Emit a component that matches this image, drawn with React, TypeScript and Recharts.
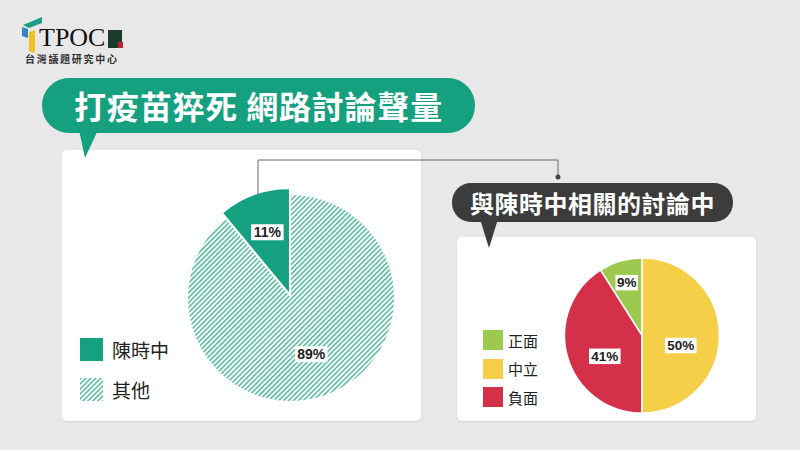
import { PieChart, Pie, Cell } from 'recharts';

const headline = '打疫苗猝死 網路討論聲量';
const subHeadline = '與陳時中相關的討論中';
const brandName = 'TPOC';
const brandSub = '台灣議題研究中心';

// left pie: share of voice
const shareNames = ['陳時中', '其他'];
const shareValues = [11, 89];

// right pie: tone of discussion (draw order, counter-clockwise from 12 o'clock)
const toneNames = ['正面', '負面', '中立'];
const toneValues = [9, 41, 50];
const toneLegendOrder = ['正面', '中立', '負面'];

const GREEN = '#15a07f';
const HATCH = 'url(#hatch)';
const toneColors: Record<string, string> = {
  正面: '#9dc94f',
  中立: '#f5cf47',
  負面: '#d5304a',
};

const CJK = '"Noto Sans CJK TC", "Noto Sans", sans-serif';
const NUM = '"Liberation Sans", Arial, sans-serif';
const RAD = Math.PI / 180;

const shareData = shareNames.map((name, i) => ({ name, value: shareValues[i] }));
const toneData = toneNames.map((name, i) => ({ name, value: toneValues[i] }));

/* eslint-disable @typescript-eslint/no-explicit-any */
interface LabelOpts {
  fontSize: number;
  small: number;
  large: number;
  dy?: number;
  only?: string;
}

function boxLabel({ fontSize, small, large, dy = 0, only }: LabelOpts) {
  return (p: any) => {
    if (only && p.name !== only) return null;
    const isSmall = p.percent < 0.15;
    const r = p.outerRadius * (isSmall ? small : large);
    const x = p.cx + r * Math.cos(-p.midAngle * RAD);
    const y = p.cy + r * Math.sin(-p.midAngle * RAD) + (isSmall ? 0 : dy);
    const txt = `${p.value}%`;
    const w = txt.length * fontSize * 0.68 + 4;
    const h = fontSize + 2;
    return (
      <g>
        <rect x={x - w / 2} y={y - h / 2} width={w} height={h} fill="#fff" />
        <text
          x={x}
          y={y + 1}
          textAnchor="middle"
          dominantBaseline="middle"
          fontFamily={NUM}
          fontWeight="bold"
          fontSize={fontSize}
          fill="#222"
        >
          {txt}
        </text>
      </g>
    );
  };
}

function Hatch({ size }: { size: number }) {
  return (
    <svg width={size} height={size} style={{ display: 'block' }}>
      <rect width={size} height={size} fill={HATCH} />
    </svg>
  );
}

export default function App() {
  // explode the first slice along its bisector
  const mid = (90 + (shareValues[0] / 100) * 180) * RAD;
  const pop = 6;
  const baseCx = 291;
  const baseCy = 298;

  return (
    <div
      style={{
        position: 'absolute',
        left: 0,
        top: 0,
        width: 800,
        height: 450,
        background: '#e8e8e8',
        overflow: 'hidden',
        fontFamily: CJK,
      }}
    >
      <svg width={0} height={0} style={{ position: 'absolute' }}>
        <defs>
          <pattern id="hatch" width={3.5} height={3.5} patternUnits="userSpaceOnUse" patternTransform="rotate(45)">
            <rect width={3.5} height={3.5} fill="#ffffff" />
            <rect width={1.6} height={3.5} fill="#58bca0" />
          </pattern>
        </defs>
      </svg>

      {/* logo */}
      <svg width={30} height={40} style={{ position: 'absolute', left: 20, top: 15 }}>
        <polygon points="3,10 22,2 22,8 9,13" fill="#1f9c86" />
        <polygon points="2,12 8,14 8,23 2,21" fill="#2f86c6" />
        <polygon points="9,17 15,15 15,38 9,36" fill="#f0c31c" />
      </svg>
      <div
        style={{
          position: 'absolute',
          left: 39,
          top: 23,
          fontFamily: '"Liberation Serif", serif',
          fontSize: 26,
          color: '#111',
          lineHeight: '30px',
        }}
      >
        {brandName}
      </div>
      <div style={{ position: 'absolute', left: 108, top: 30, width: 14, height: 18, background: '#1d3b2c' }} />
      <div style={{ position: 'absolute', left: 118, top: 42, width: 5, height: 6, background: '#b8232f' }} />
      <div
        style={{
          position: 'absolute',
          left: 25,
          top: 52,
          fontSize: 10,
          letterSpacing: 1.7,
          color: '#333',
          fontWeight: 'bold',
          lineHeight: '14px',
        }}
      >
        {brandSub}
      </div>

      {/* panels */}
      <div
        style={{
          position: 'absolute',
          left: 62,
          top: 150,
          width: 359,
          height: 271,
          background: '#fff',
          borderRadius: 5,
          boxShadow: '0 1px 2px rgba(0,0,0,0.08)',
        }}
      />
      <div
        style={{
          position: 'absolute',
          left: 457,
          top: 237,
          width: 299,
          height: 184,
          background: '#fff',
          borderRadius: 5,
          boxShadow: '0 1px 2px rgba(0,0,0,0.08)',
        }}
      />

      {/* bubbles and connector */}
      <svg width={800} height={450} style={{ position: 'absolute', left: 0, top: 0 }}>
        <rect x={42} y={78} width={433} height={55} rx={27} fill={GREEN} />
        <polygon points="79,130 98,130 85,158" fill={GREEN} />
        <rect x={452} y={183} width={281} height={39} rx={19} fill="#3c3c3c" />
        <polygon points="480,219 498,219 489,248" fill="#3c3c3c" />
        <polyline points="258,195 258,160 558,160 558,177" fill="none" stroke="#666" strokeWidth={1} />
        <circle cx={558} cy={177} r={2.5} fill="#444" />
      </svg>
      <div
        style={{
          position: 'absolute',
          left: 42,
          top: 78,
          width: 433,
          height: 55,
          lineHeight: '55px',
          textAlign: 'center',
          color: '#fff',
          fontWeight: 'bold',
          fontSize: 32,
          letterSpacing: 0.8,
        }}
      >
        {headline}
      </div>
      <div
        style={{
          position: 'absolute',
          left: 452,
          top: 183,
          width: 281,
          height: 39,
          lineHeight: '39px',
          textAlign: 'center',
          color: '#fff',
          fontWeight: 'bold',
          fontSize: 24,
          letterSpacing: 0.5,
        }}
      >
        {subHeadline}
      </div>

      {/* left legend */}
      {shareNames.map((n, i) => (
        <div
          key={n}
          style={{
            position: 'absolute',
            left: 80,
            top: 338 + i * 40,
            display: 'flex',
            alignItems: 'center',
            gap: 9,
            fontSize: 19,
            color: '#222',
            height: 23,
          }}
        >
          {i === 0 ? <div style={{ width: 23, height: 23, background: GREEN }} /> : <Hatch size={23} />}
          <span>{n}</span>
        </div>
      ))}

      {/* right legend */}
      {toneLegendOrder.map((n, i) => (
        <div
          key={n}
          style={{
            position: 'absolute',
            left: 483,
            top: 330 + i * 28.5,
            display: 'flex',
            alignItems: 'center',
            gap: 5,
            fontSize: 15,
            color: '#222',
            height: 20,
          }}
        >
          <div style={{ width: 20, height: 20, background: toneColors[n] }} />
          <span>{n}</span>
        </div>
      ))}

      <div style={{ position: 'absolute', left: 0, top: 0 }}>
        <PieChart width={800} height={450} margin={{ top: 0, right: 0, bottom: 0, left: 0 }}>
          <Pie
            data={shareData}
            dataKey="value"
            nameKey="name"
            cx={baseCx}
            cy={baseCy}
            outerRadius={103}
            startAngle={90}
            endAngle={450}
            stroke="none"
            labelLine={false}
            label={boxLabel({ fontSize: 14, small: 0.62, large: 0.58, only: shareNames[1] })}
            isAnimationActive={false}
          >
            {shareData.map((d, i) => (
              <Cell key={d.name} fill={i === 0 ? 'none' : HATCH} />
            ))}
          </Pie>
          <Pie
            data={shareData}
            dataKey="value"
            nameKey="name"
            cx={baseCx + pop * Math.cos(mid)}
            cy={baseCy - pop * Math.sin(mid)}
            outerRadius={103}
            startAngle={90}
            endAngle={450}
            stroke="none"
            labelLine={false}
            label={boxLabel({ fontSize: 14, small: 0.62, large: 0.58, only: shareNames[0] })}
            isAnimationActive={false}
          >
            {shareData.map((d, i) => (
              <Cell key={d.name} fill={i === 0 ? GREEN : 'none'} />
            ))}
          </Pie>
          <Pie
            data={toneData}
            dataKey="value"
            nameKey="name"
            cx={642}
            cy={335.5}
            outerRadius={77.5}
            startAngle={90}
            endAngle={450}
            stroke="#fff"
            strokeWidth={1.5}
            labelLine={false}
            label={boxLabel({ fontSize: 13.5, small: 0.71, large: 0.5, dy: 10 })}
            isAnimationActive={false}
          >
            {toneData.map((d) => (
              <Cell key={d.name} fill={toneColors[d.name]} />
            ))}
          </Pie>
        </PieChart>
      </div>
    </div>
  );
}
